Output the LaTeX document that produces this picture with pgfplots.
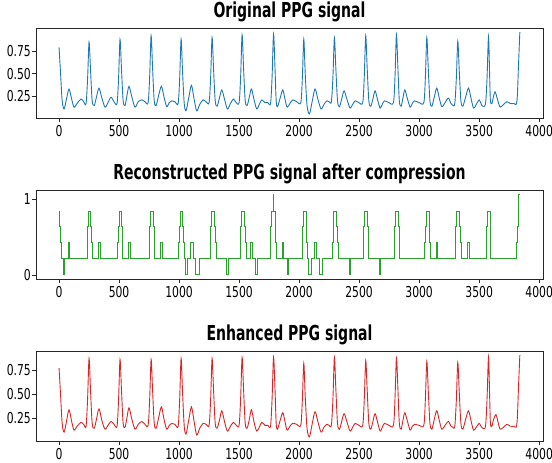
\documentclass[border=0pt]{standalone}
\usepackage{fontspec}
\setmainfont{DejaVu Sans}[FakeStretch=0.68]
\newfontfamily\tickfont{DejaVu Sans}[FakeStretch=0.72]
\usepackage{pgfplots}
\pgfplotsset{compat=1.18}
\definecolor{mplblue}{HTML}{1F77B4}
\definecolor{mplgreen}{HTML}{2CA02C}
\definecolor{mplred}{HTML}{D62728}
\newcommand\ttl{\fontsize{20.6}{24}\selectfont\bfseries}
\newcommand\tks{\tickfont\fontsize{15}{17}\selectfont}
\pgfplotsset{
  ppg/.style={
    scale only axis, width=507pt, height=90pt, anchor=south west,
    xmin=-192, xmax=4032, xtick={0,500,...,4000},
    tick align=outside, tick pos=left, major tick length=4pt,
    axis line style={line width=0.9pt, black!85},
    tick style={line width=0.8pt, black!85},
    ticklabel style={font=\tks},
    /pgf/number format/assume math mode=true,
    /pgf/number format/set thousands separator={},
    scaled x ticks=false, scaled y ticks=false,
    xticklabel style={inner sep=0pt, yshift=-3pt},
    yticklabel style={inner sep=0pt, xshift=-1pt},
    title style={font=\ttl, at={(0.5,1)}, anchor=base, yshift=4.8pt},
  }
}
\begin{document}
\begin{tikzpicture}[x=1pt,y=1pt]
\useasboundingbox (0,0) rectangle (552,463);
% ---------------- Original
\begin{axis}[ppg, at={(36pt,345pt)}, ymin=0.01, ymax=1.005,
  ytick={0.25,0.5,0.75},
  yticklabel style={/pgf/number format/.cd, fixed, fixed zerofill, precision=2},
  title={Original PPG signal}]
\addplot[mplblue, line width=0.9pt, smooth, tension=0.5] coordinates {
(0,0.79) (12,0.52) (26,0.2) (42,0.11) (62,0.22) (83,0.33) (105,0.22) (125,0.13) (150,0.17) (183,0.22) (205,0.19) (225,0.17)
(238,0.45) (250,0.85) (262,0.55) (276,0.2) (294,0.15) (313,0.25) (333,0.34) (357,0.23) (383,0.13) (408,0.18) (433,0.24) (458,0.19) (483,0.17)
(496,0.45) (508,0.88) (520,0.56) (534,0.2) (550,0.15) (566,0.26) (583,0.36) (607,0.24) (633,0.13) (660,0.19) (690,0.21) (716,0.19) (742,0.18)
(755,0.47) (767,0.92) (779,0.57) (793,0.2) (809,0.15) (830,0.26) (853,0.36) (875,0.24) (897,0.135) (918,0.18) (940,0.20) (965,0.19) (992,0.17)
(1005,0.45) (1017,0.88) (1029,0.52) (1043,0.17) (1058,0.09) (1080,0.23) (1103,0.37) (1125,0.22) (1147,0.09) (1172,0.16) (1200,0.21) (1225,0.19) (1250,0.18)
(1263,0.46) (1275,0.90) (1287,0.56) (1301,0.2) (1317,0.14) (1336,0.23) (1356,0.32) (1380,0.21) (1403,0.11) (1428,0.17) (1453,0.22) (1476,0.18) (1500,0.18)
(1513,0.47) (1525,0.93) (1537,0.57) (1551,0.2) (1567,0.15) (1585,0.24) (1603,0.33) (1625,0.21) (1647,0.11) (1668,0.16) (1689,0.21) (1715,0.18) (1740,0.18) (1762,0.17)
(1775,0.47) (1787,0.94) (1799,0.57) (1809,0.2) (1820,0.135) (1842,0.23) (1864,0.32) (1882,0.22) (1900,0.13) (1923,0.17) (1947,0.21) (1980,0.19) (2014,0.18)
(2027,0.45) (2039,0.88) (2051,0.5) (2066,0.15) (2086,0.055) (2110,0.2) (2133,0.33) (2158,0.21) (2183,0.11) (2207,0.16) (2231,0.2) (2250,0.19) (2269,0.19)
(2282,0.47) (2294,0.90) (2306,0.56) (2320,0.2) (2336,0.135) (2355,0.22) (2375,0.31) (2400,0.21) (2425,0.12) (2446,0.16) (2467,0.20) (2498,0.18) (2530,0.18)
(2543,0.47) (2555,0.92) (2567,0.57) (2581,0.2) (2597,0.14) (2615,0.22) (2633,0.31) (2654,0.21) (2675,0.12) (2693,0.16) (2711,0.20) (2748,0.18) (2786,0.18)
(2799,0.47) (2811,0.935) (2823,0.57) (2835,0.2) (2850,0.14) (2865,0.23) (2881,0.32) (2903,0.22) (2925,0.13) (2943,0.17) (2961,0.20) (3000,0.18) (3039,0.18)
(3052,0.46) (3064,0.90) (3076,0.56) (3090,0.2) (3106,0.14) (3126,0.24) (3147,0.34) (3168,0.23) (3189,0.135) (3216,0.18) (3244,0.23) (3265,0.17) (3280,0.15) (3297,0.17)
(3310,0.45) (3322,0.86) (3334,0.54) (3348,0.2) (3364,0.14) (3387,0.24) (3411,0.34) (3432,0.23) (3453,0.12) (3476,0.16) (3500,0.21) (3515,0.17) (3530,0.14) (3553,0.17)
(3566,0.46) (3578,0.91) (3588,0.45) (3594,0.2) (3606,0.17) (3620,0.25) (3633,0.30) (3654,0.21) (3675,0.13) (3703,0.16) (3731,0.19) (3760,0.17) (3790,0.17) (3808,0.16) (3818,0.25) (3828,0.6) (3839,0.96)
};
\end{axis}
% ---------------- Reconstructed
\begin{axis}[ppg, at={(36pt,184pt)}, height=89pt, ymin=-0.054, ymax=1.124,
  ytick={0,1},
  title={Reconstructed PPG signal after compression}]
\addplot[mplgreen, line width=0.9pt, const plot] coordinates {
(0,0.845) (5,0.635) (10,0.43) (16,0.215) (36,0) (44,0.215) (78,0.43) (86,0.215)
(236,0.43) (240,0.635) (247,0.845) (264,0.635) (270,0.43) (276,0.215)
(331,0.43) (347,0.215)
(489,0.43) (494,0.635) (500,0.845) (519,0.635) (526,0.43) (532,0.215)
(578,0.43) (592,0.215)
(750,0.43) (756,0.635) (764,0.845) (786,0.635) (792,0.43) (798,0.215)
(842,0.43) (864,0.215)
(998,0.43) (1003,0.635) (1008,0.845) (1031,0.635) (1036,0.43) (1044,0.215) (1056,0) (1069,0.215) (1097,0.43) (1119,0.215) (1133,0) (1167,0.215)
(1258,0.43) (1265,0.635) (1272,0.845) (1294,0.635) (1300,0.43) (1310,0.215)
(1392,0) (1411,0.215)
(1508,0.43) (1513,0.635) (1517,0.845) (1542,0.635) (1550,0.43) (1558,0.215)
(1597,0.43) (1611,0.215) (1633,0) (1656,0.215)
(1758,0.43) (1763,0.635) (1767,0.845) (1783,1.06) (1789,0.845) (1800,0.635) (1806,0.43) (1812,0.215)
(1861,0.43) (1869,0.215) (1903,0) (1914,0.215)
(2026,0.43) (2031,0.635) (2036,0.845) (2058,0.635) (2063,0.43) (2067,0.215) (2078,0) (2106,0.215) (2125,0.43) (2142,0.215) (2169,0) (2197,0.215)
(2278,0.43) (2282,0.635) (2286,0.845) (2314,0.635) (2320,0.43) (2328,0.215)
(2422,0) (2428,0.215)
(2535,0.43) (2539,0.635) (2544,0.845) (2569,0.635) (2574,0.43) (2578,0.215)
(2672,0) (2678,0.215)
(2793,0.43) (2797,0.635) (2802,0.845) (2828,0.635) (2832,0.43) (2836,0.215)
(3048,0.43) (3052,0.635) (3058,0.845) (3083,0.635) (3088,0.43) (3092,0.215)
(3142,0.43) (3153,0.215)
(3300,0.43) (3304,0.635) (3308,0.845) (3336,0.635) (3347,0.43) (3352,0.215)
(3403,0.43) (3417,0.215)
(3558,0.43) (3564,0.635) (3569,0.845) (3592,0.215)
(3814,0.43) (3820,0.635) (3826,0.845) (3831,1.06) (3839,1.06)
};
\end{axis}
% ---------------- Enhanced
\begin{axis}[ppg, at={(36pt,22pt)}, ymin=0.018, ymax=0.947,
  ytick={0.25,0.5,0.75},
  yticklabel style={/pgf/number format/.cd, fixed, fixed zerofill, precision=2},
  title={Enhanced PPG signal}]
\addplot[mplred, line width=0.9pt, smooth, tension=0.5] coordinates {
(0,0.77) (12,0.51) (26,0.2) (42,0.11) (62,0.22) (83,0.34) (105,0.22) (125,0.13) (150,0.17) (183,0.21) (205,0.19) (225,0.17)
(238,0.46) (250,0.87) (262,0.55) (276,0.2) (294,0.15) (313,0.25) (333,0.35) (357,0.23) (383,0.14) (408,0.18) (433,0.22) (458,0.19) (483,0.17)
(496,0.45) (508,0.86) (520,0.55) (534,0.2) (550,0.16) (566,0.26) (583,0.36) (607,0.24) (633,0.14) (660,0.19) (690,0.22) (716,0.19) (742,0.18)
(755,0.45) (767,0.86) (779,0.55) (793,0.2) (809,0.15) (830,0.26) (853,0.37) (875,0.24) (897,0.14) (918,0.18) (940,0.20) (965,0.19) (992,0.17)
(1005,0.45) (1017,0.87) (1029,0.52) (1043,0.17) (1058,0.09) (1080,0.23) (1103,0.37) (1125,0.22) (1147,0.08) (1172,0.15) (1200,0.20) (1225,0.19) (1250,0.18)
(1263,0.45) (1275,0.87) (1287,0.55) (1301,0.2) (1317,0.15) (1336,0.23) (1356,0.33) (1380,0.21) (1403,0.12) (1428,0.17) (1453,0.21) (1476,0.18) (1500,0.18)
(1513,0.46) (1525,0.88) (1537,0.56) (1551,0.2) (1567,0.15) (1585,0.24) (1603,0.34) (1625,0.21) (1647,0.12) (1668,0.16) (1689,0.21) (1715,0.18) (1740,0.18) (1762,0.17)
(1775,0.46) (1787,0.885) (1799,0.56) (1809,0.2) (1820,0.14) (1842,0.23) (1864,0.31) (1882,0.22) (1900,0.13) (1923,0.17) (1947,0.20) (1980,0.19) (2014,0.18)
(2027,0.44) (2039,0.82) (2051,0.48) (2066,0.15) (2086,0.06) (2110,0.2) (2133,0.32) (2158,0.21) (2183,0.11) (2207,0.16) (2231,0.19) (2250,0.18) (2269,0.18)
(2282,0.46) (2294,0.885) (2306,0.56) (2320,0.2) (2336,0.14) (2355,0.22) (2375,0.30) (2400,0.21) (2425,0.12) (2446,0.16) (2467,0.20) (2498,0.18) (2530,0.18)
(2543,0.45) (2555,0.85) (2567,0.55) (2581,0.2) (2597,0.14) (2615,0.22) (2633,0.30) (2654,0.21) (2675,0.12) (2693,0.16) (2711,0.20) (2748,0.18) (2786,0.18)
(2799,0.46) (2811,0.875) (2823,0.56) (2835,0.2) (2850,0.14) (2865,0.23) (2881,0.31) (2903,0.22) (2925,0.13) (2943,0.17) (2961,0.19) (3000,0.18) (3039,0.18)
(3052,0.45) (3064,0.84) (3076,0.54) (3090,0.2) (3106,0.14) (3126,0.24) (3147,0.33) (3168,0.23) (3189,0.14) (3216,0.18) (3244,0.22) (3265,0.17) (3280,0.16) (3297,0.17)
(3310,0.44) (3322,0.83) (3334,0.53) (3348,0.2) (3364,0.14) (3387,0.24) (3411,0.33) (3432,0.23) (3453,0.13) (3476,0.16) (3500,0.20) (3515,0.17) (3530,0.15) (3553,0.17)
(3566,0.46) (3578,0.885) (3588,0.45) (3594,0.2) (3606,0.17) (3620,0.24) (3640,0.29) (3658,0.21) (3675,0.14) (3703,0.16) (3731,0.19) (3760,0.17) (3790,0.17) (3808,0.16) (3818,0.25) (3828,0.58) (3839,0.905)
};
\end{axis}
\end{tikzpicture}
\end{document}
